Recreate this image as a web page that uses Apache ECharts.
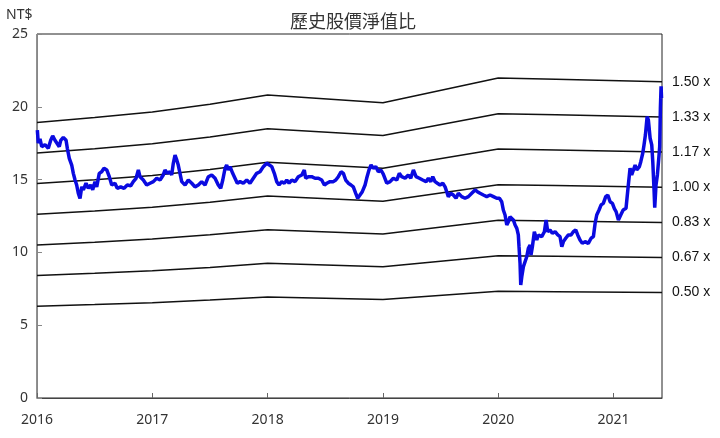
<!DOCTYPE html>
<html>
<head>
<meta charset="utf-8">
<script src="https://cdn.jsdelivr.net/npm/echarts@6/dist/echarts.min.js"></script>
<style>
  html, body { margin: 0; padding: 0; background: #fff; }
  #chart { width: 720px; height: 438px; }
</style>
</head>
<body>
<div id="chart"></div>
<script>
// book value per share knots (decimal year -> NT$)
const bookYears = [2016.0, 2016.5, 2017.0, 2017.5, 2018.0, 2019.0, 2020.0, 2020.5, 2021.42];
const bookValues = [12.62, 12.84, 13.10, 13.45, 13.87, 13.52, 14.65, 14.60, 14.48];

// P/B multiples drawn as bands
const bandMultiples = [1.5, 1.333, 1.167, 1.0, 0.833, 0.667, 0.5];
const bandLabels = ['1.50 x', '1.33 x', '1.17 x', '1.00 x', '0.83 x', '0.67 x', '0.50 x'];

const yearTicks = [2016, 2017, 2018, 2019, 2020, 2021];

// share price (decimal year, NT$)
const priceSeries = [
  [2016.003, 18.4], [2016.011, 17.5], [2016.026, 17.8], [2016.041, 17.26], [2016.069, 17.4],
  [2016.098, 17.15], [2016.119, 17.7], [2016.136, 18.0], [2016.156, 17.7], [2016.171, 17.8],
  [2016.193, 17.26], [2016.206, 17.7], [2016.228, 17.9], [2016.252, 17.7], [2016.263, 17.15],
  [2016.280, 16.46], [2016.301, 16.0], [2016.315, 15.43], [2016.330, 14.97], [2016.344, 14.63],
  [2016.358, 14.06], [2016.373, 13.7], [2016.388, 14.5], [2016.402, 14.3], [2016.425, 14.75],
  [2016.445, 14.4], [2016.466, 14.63], [2016.483, 14.3], [2016.503, 14.86], [2016.518, 14.5],
  [2016.540, 15.43], [2016.561, 15.54], [2016.581, 15.78], [2016.605, 15.66], [2016.627, 15.2],
  [2016.648, 14.63], [2016.676, 14.75], [2016.696, 14.4], [2016.726, 14.5], [2016.755, 14.4],
  [2016.783, 14.63], [2016.813, 14.58], [2016.835, 14.86], [2016.859, 15.09], [2016.879, 15.66],
  [2016.893, 15.2], [2016.922, 14.97], [2016.951, 14.63], [2016.980, 14.75], [2017.009, 14.86],
  [2017.038, 15.09], [2017.067, 14.97], [2017.095, 15.32], [2017.110, 15.66], [2017.130, 15.43],
  [2017.153, 15.54], [2017.168, 15.32], [2017.182, 16.12], [2017.197, 16.69], [2017.212, 16.35],
  [2017.225, 16.0], [2017.240, 15.43], [2017.255, 14.86], [2017.284, 14.63], [2017.312, 14.97],
  [2017.342, 14.75], [2017.370, 14.5], [2017.399, 14.63], [2017.428, 14.86], [2017.457, 14.63],
  [2017.486, 15.2], [2017.515, 15.32], [2017.544, 15.09], [2017.572, 14.63], [2017.593, 14.4],
  [2017.611, 14.97], [2017.631, 15.78], [2017.645, 16.0], [2017.659, 15.66], [2017.674, 15.89],
  [2017.697, 15.43], [2017.717, 15.09], [2017.737, 14.75], [2017.761, 14.86], [2017.789, 14.75],
  [2017.819, 14.97], [2017.847, 14.75], [2017.876, 15.09], [2017.905, 15.43], [2017.934, 15.54],
  [2017.963, 15.89], [2017.992, 16.12], [2018.015, 16.0], [2018.036, 15.89], [2018.058, 15.43],
  [2018.079, 14.86], [2018.099, 14.63], [2018.122, 14.86], [2018.145, 14.75], [2018.166, 14.97],
  [2018.186, 14.75], [2018.209, 14.97], [2018.238, 14.86], [2018.266, 15.2], [2018.296, 15.32],
  [2018.318, 15.66], [2018.330, 15.09], [2018.353, 15.2], [2018.382, 15.2], [2018.411, 15.09],
  [2018.440, 15.09], [2018.469, 14.97], [2018.492, 14.63], [2018.513, 14.75], [2018.541, 14.86],
  [2018.570, 14.86], [2018.591, 14.97], [2018.613, 15.2], [2018.637, 15.54], [2018.657, 15.43],
  [2018.677, 14.97], [2018.700, 14.75], [2018.723, 14.63], [2018.743, 14.5], [2018.764, 14.06],
  [2018.781, 13.72], [2018.801, 13.94], [2018.821, 14.17], [2018.845, 14.63], [2018.859, 15.09],
  [2018.879, 15.66], [2018.897, 16.0], [2018.917, 15.78], [2018.938, 15.89], [2018.960, 15.54],
  [2018.983, 15.66], [2019.003, 15.38], [2019.033, 14.75], [2019.062, 14.86], [2019.090, 15.09],
  [2019.120, 14.97], [2019.142, 15.43], [2019.163, 15.2], [2019.192, 15.09], [2019.220, 15.32],
  [2019.241, 15.09], [2019.264, 15.66], [2019.287, 15.2], [2019.316, 15.09], [2019.345, 14.97],
  [2019.374, 14.86], [2019.394, 15.09], [2019.415, 14.86], [2019.432, 15.2], [2019.452, 14.86],
  [2019.472, 14.75], [2019.495, 14.63], [2019.519, 14.75], [2019.539, 14.5], [2019.553, 14.17],
  [2019.567, 13.83], [2019.588, 14.06], [2019.611, 13.94], [2019.634, 13.72], [2019.654, 14.06],
  [2019.683, 13.83], [2019.712, 13.72], [2019.741, 13.83], [2019.770, 14.06], [2019.799, 14.29],
  [2019.819, 14.17], [2019.842, 14.06], [2019.871, 13.94], [2019.900, 13.83], [2019.929, 13.94],
  [2019.958, 13.83], [2019.987, 13.72], [2020.010, 13.72], [2020.030, 13.48], [2020.044, 12.91],
  [2020.059, 12.57], [2020.074, 11.88], [2020.088, 12.11], [2020.102, 12.45], [2020.117, 12.57],
  [2020.131, 12.23], [2020.146, 11.88], [2020.161, 11.65], [2020.174, 11.2], [2020.180, 10.39],
  [2020.189, 9.25], [2020.195, 7.76], [2020.204, 8.33], [2020.218, 9.02], [2020.232, 8.91],
  [2020.247, 9.7], [2020.261, 10.28], [2020.276, 10.51], [2020.284, 9.82], [2020.296, 10.39],
  [2020.313, 11.42], [2020.334, 10.85], [2020.348, 11.2], [2020.377, 11.08], [2020.400, 11.42],
  [2020.415, 12.23], [2020.429, 11.42], [2020.449, 11.54], [2020.469, 11.31], [2020.493, 11.42],
  [2020.516, 11.2], [2020.536, 11.08], [2020.551, 10.39], [2020.565, 10.74], [2020.585, 10.97],
  [2020.608, 11.2], [2020.631, 11.2], [2020.651, 11.42], [2020.672, 11.54], [2020.689, 11.2],
  [2020.709, 10.85], [2020.729, 10.62], [2020.753, 10.74], [2020.781, 10.62], [2020.805, 10.97],
  [2020.825, 11.08], [2020.840, 12.0], [2020.854, 12.57], [2020.874, 12.91], [2020.892, 13.26],
  [2020.911, 13.37], [2020.932, 13.83], [2020.950, 13.94], [2020.970, 13.48], [2020.990, 13.37],
  [2021.007, 13.0], [2021.022, 12.8], [2021.042, 12.23], [2021.062, 12.57], [2021.083, 12.91],
  [2021.108, 13.03], [2021.128, 14.63], [2021.143, 15.78], [2021.157, 15.32], [2021.172, 15.66],
  [2021.187, 16.0], [2021.201, 15.66], [2021.224, 15.89], [2021.236, 16.23], [2021.253, 16.81],
  [2021.264, 17.38], [2021.276, 18.06], [2021.291, 19.32], [2021.302, 19.09], [2021.317, 17.84],
  [2021.331, 17.38], [2021.340, 16.23], [2021.351, 14.29], [2021.357, 13.07], [2021.368, 14.63],
  [2021.380, 15.32], [2021.392, 16.46], [2021.400, 17.26], [2021.406, 19.9], [2021.412, 21.4],
  [2021.416, 20.6]
];

const chart = echarts.init(document.getElementById('chart'), null, { renderer: 'canvas' });

const bandSeries = bandMultiples.map((m, i) => ({
  name: bandLabels[i],
  type: 'line',
  data: bookYears.map((y, k) => [y, +(bookValues[k] * m).toFixed(3)]),
  symbol: 'none',
  silent: true,
  z: 2,
  lineStyle: { color: '#111', width: 1.5 },
  endLabel: {
    show: true,
    formatter: '{a}',
    distance: 10,
    color: '#111',
    fontSize: 14,
    fontFamily: 'Liberation Sans, Arial, sans-serif'
  }
}));

const option = {
  animation: false,
  backgroundColor: '#fff',
  title: {
    text: '歷史股價淨值比',
    left: 285,
    top: 7,
    textStyle: { fontSize: 18, fontWeight: 'normal', color: '#333', fontFamily: 'Noto Sans CJK TC' }
  },
  graphic: [{
    type: 'text', left: 6, top: 8,
    style: { text: 'NT$', fontSize: 14, fill: '#333', fontFamily: 'Noto Sans, sans-serif' }
  }],
  grid: {
    left: 37, right: 58, top: 34, bottom: 40,
    containLabel: false, outerBoundsMode: 'none',
    show: true, borderColor: '#222', borderWidth: 1
  },
  xAxis: {
    type: 'value',
    min: 2016, max: 2021.42, interval: 1,
    axisLine: { lineStyle: { color: '#444' } },
    axisTick: { inside: true, length: 5, lineStyle: { color: '#666' } },
    splitLine: { show: false },
    axisLabel: {
      margin: 15, fontSize: 14, color: '#333', fontFamily: 'Noto Sans, sans-serif',
      showMaxLabel: false,
      formatter: v => (yearTicks.indexOf(Math.round(v)) >= 0 && Math.abs(v - Math.round(v)) < 1e-6) ? String(Math.round(v)) : ''
    }
  },
  yAxis: {
    type: 'value',
    min: 0, max: 25, interval: 5,
    axisLine: { show: true, lineStyle: { color: '#888' } },
    axisTick: { show: true, inside: true, length: 5, lineStyle: { color: '#888' } },
    splitLine: { show: false },
    axisLabel: { margin: 9, fontSize: 14, color: '#333', fontFamily: 'Noto Sans, sans-serif' }
  },
  series: bandSeries.concat([{
    name: '股價',
    type: 'line',
    data: priceSeries,
    symbol: 'none',
    z: 5,
    lineStyle: { color: '#0a0ae0', width: 3.5 }
  }])
};

chart.setOption(option);
</script>
</body>
</html>
